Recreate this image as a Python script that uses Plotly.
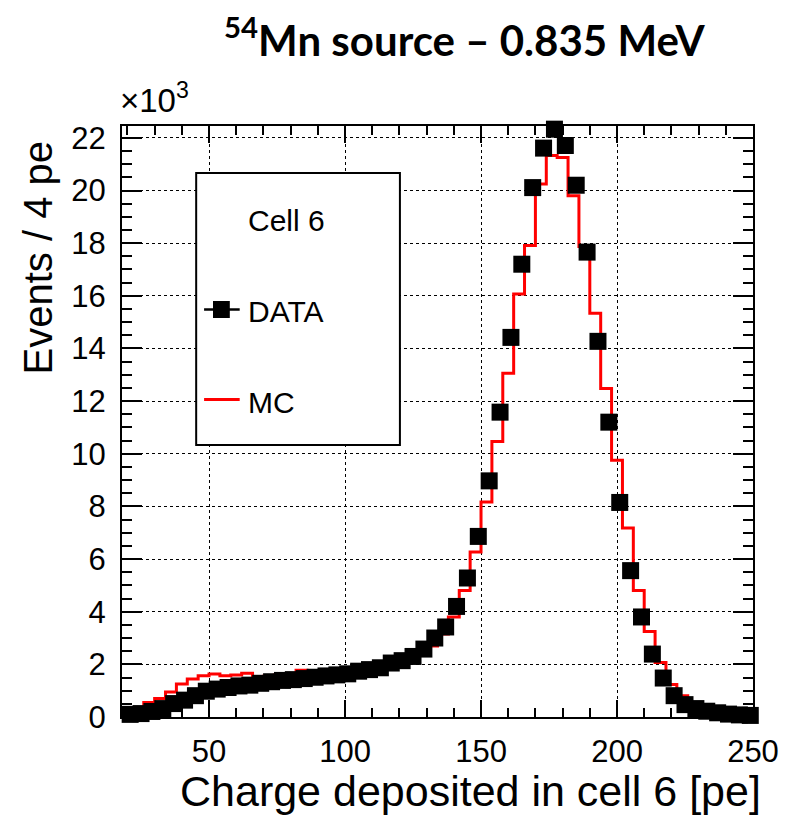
import plotly.graph_objects as go

# ---------------- data (values in units of 10^3 events) ----------------
data_x = [21, 25, 29, 33, 37, 41, 45, 49, 53, 57,
          61, 65, 69, 73, 77, 81, 85, 89, 93, 97,
          101, 105, 109, 113, 117, 121, 125, 129, 133, 137,
          141, 145, 149, 153, 157, 161, 165, 169, 173, 177,
          181, 185, 189, 193, 197, 201, 205, 209, 213, 217,
          221, 225, 229, 233, 237, 241, 245, 249]
data_y = [0.10, 0.13, 0.21, 0.32, 0.51, 0.64, 0.81, 0.98, 1.06, 1.12,
          1.18, 1.21, 1.28, 1.34, 1.39, 1.42, 1.46, 1.51, 1.56, 1.60,
          1.64, 1.74, 1.80, 1.87, 2.05, 2.14, 2.30, 2.58, 3.00, 3.42,
          4.20, 5.28, 6.86, 8.97, 11.58, 14.42, 17.20, 20.11, 21.61, 22.33,
          21.71, 20.20, 17.66, 14.27, 11.20, 8.15, 5.56, 3.80, 2.39, 1.48,
          0.81, 0.47, 0.32, 0.22, 0.16, 0.11, 0.08, 0.06]

mc_edges = list(range(18, 251, 4))  # 59 edges, 58 bins
mc_y = [0.15, 0.32, 0.55, 0.70, 0.95, 1.25, 1.44, 1.57, 1.63, 1.57,
        1.60, 1.66, 1.52, 1.55, 1.60, 1.62, 1.78, 1.65, 1.70, 1.72,
        1.78, 1.82, 1.88, 1.95, 2.05, 2.18, 2.30, 2.45, 2.70, 3.15,
        3.80, 4.81, 6.27, 8.17, 10.47, 13.06, 16.07, 17.91, 20.25, 21.33,
        21.25, 19.80, 17.87, 15.34, 12.48, 9.75, 7.18, 4.81, 3.25, 2.07,
        1.23, 0.81, 0.50, 0.30, 0.20, 0.13, 0.09, 0.06]

x_ticks = [50, 100, 150, 200, 250]
y_ticks = [0, 2, 4, 6, 8, 10, 12, 14, 16, 18, 20, 22]

title_text = "<b><sup>54</sup>Mn source – 0.835 MeV</b>"
x_title = "Charge deposited in cell 6 [pe]"
y_title = "Events / 4 pe"
legend_header = "Cell 6"
legend_data = "DATA"
legend_mc = "MC"

# ---------------- layout geometry ----------------
W, H = 791, 816
L, R, T, B = 122, 31, 126, 99
PX0, PX1 = L, W - R
PY0, PY1 = T, H - B


def xp(px):
    return (px - PX0) / (PX1 - PX0)


def yp(py):
    return (PY1 - py) / (PY1 - PY0)


FONT = "Liberation Sans, Arial, Helvetica, sans-serif"

fig = go.Figure()

# MC step histogram
fig.add_trace(go.Scatter(
    x=mc_edges, y=mc_y + [mc_y[-1]], mode="lines", line_shape="hv",
    line=dict(color="#ff0000", width=3), showlegend=False, hoverinfo="skip",
))
# Data points
fig.add_trace(go.Scatter(
    x=data_x, y=data_y, mode="markers",
    marker=dict(symbol="square", size=17, color="black", line=dict(width=0)),
    cliponaxis=False, showlegend=False,
))

axis_common = dict(
    showline=True, linecolor="black", linewidth=2, mirror="allticks",
    ticks="inside", tickcolor="black", tickwidth=2,
    showgrid=True, gridcolor="black", gridwidth=1, griddash="dot",
    zeroline=False, tickfont=dict(family=FONT, size=31, color="black"),
)

fig.update_layout(
    width=W, height=H,
    margin=dict(l=L, r=R, t=T, b=B),
    paper_bgcolor="white", plot_bgcolor="white",
    showlegend=False,
    xaxis=dict(range=[18, 250], tickvals=x_ticks, ticklen=17,
               minor=dict(ticks="inside", dtick=10, tick0=0, ticklen=9,
                          tickwidth=1.5, tickcolor="black", showgrid=False),
               ticklabelstandoff=6, **axis_common),
    yaxis=dict(range=[0, 22.45], tickvals=y_ticks, ticklen=20,
               minor=dict(ticks="inside", dtick=0.5, tick0=0, ticklen=10,
                          tickwidth=1.5, tickcolor="black", showgrid=False),
               ticklabelstandoff=8, **axis_common),
)

shapes = []
# legend box
shapes.append(dict(type="rect", xref="paper", yref="paper",
                   x0=xp(197), x1=xp(403), y0=yp(445), y1=yp(173),
                   line=dict(color="black", width=2), fillcolor="white", layer="above"))
# DATA legend symbol
shapes.append(dict(type="line", xref="paper", yref="paper",
                   x0=xp(205), x1=xp(241), y0=yp(309.5), y1=yp(309.5),
                   line=dict(color="black", width=2.5), layer="above"))
shapes.append(dict(type="rect", xref="paper", yref="paper",
                   x0=xp(214), x1=xp(231), y0=yp(318), y1=yp(301),
                   line=dict(width=0), fillcolor="black", layer="above"))
# MC legend symbol
shapes.append(dict(type="line", xref="paper", yref="paper",
                   x0=xp(205), x1=xp(241), y0=yp(399.5), y1=yp(399.5),
                   line=dict(color="#ff0000", width=3), layer="above"))
fig.update_layout(shapes=shapes)

ann = []
leg_font = dict(family=FONT, size=30, color="black")
ann.append(dict(text=legend_header, xref="paper", yref="paper", x=xp(247), y=yp(221),
                xanchor="left", yanchor="middle", showarrow=False, font=leg_font))
ann.append(dict(text=legend_data, xref="paper", yref="paper", x=xp(247), y=yp(311),
                xanchor="left", yanchor="middle", showarrow=False, font=leg_font))
ann.append(dict(text=legend_mc, xref="paper", yref="paper", x=xp(247), y=yp(402),
                xanchor="left", yanchor="middle", showarrow=False, font=leg_font))
# axis titles (right/top aligned like ROOT)
ann.append(dict(text=x_title, xref="paper", yref="paper", x=xp(770), y=yp(791),
                xanchor="right", yanchor="middle", showarrow=False,
                font=dict(family=FONT, size=43, color="black")))
ann.append(dict(text=y_title, xref="paper", yref="paper", x=xp(37), y=yp(139),
                xanchor="center", yanchor="top", textangle=-90, showarrow=False,
                font=dict(family=FONT, size=40, color="black")))
# exponent label
ann.append(dict(text="×10<sup>3</sup>", xref="paper", yref="paper", x=xp(118), y=yp(121),
                xanchor="left", yanchor="bottom", showarrow=False,
                font=dict(family=FONT, size=33, color="black")))
# main title
ann.append(dict(text=title_text, xref="paper", yref="paper", x=xp(469), y=yp(37),
                xanchor="center", yanchor="middle", showarrow=False,
                font=dict(family="Lato, Open Sans, sans-serif", size=42, color="black")))
fig.update_layout(annotations=ann)

fig.write_html("out.html")
